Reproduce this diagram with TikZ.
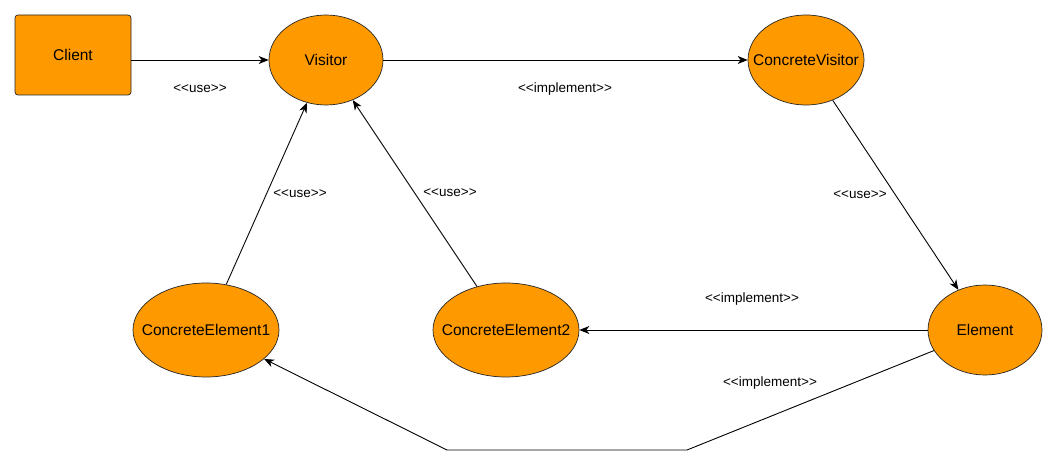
\documentclass[tikz,border=0pt]{standalone}
\usepackage{fontspec}
\setmainfont{Liberation Sans}
\usetikzlibrary{positioning,shapes,arrows.meta}
\definecolor{boxorange}{RGB}{255,153,0}
\newcommand\fixwd[1]{\makebox[0pt]{#1}}
\tikzset{
  uml/.style={draw=black!85,line width=0.7pt,fill=boxorange,font=\fontsize{15.5}{18}\selectfont},
  actor/.style={uml,rectangle,rounded corners=3pt,minimum width=116pt,minimum height=80pt},
  role/.style={uml,ellipse,inner sep=0pt,minimum width=114pt,minimum height=90pt},
  wide/.style={role,minimum width=146pt,minimum height=94pt},
  stereo/.style={font=\fontsize{13.5}{16}\selectfont},
  rel/.style={->,line width=0.9pt},
}
\begin{document}
\begin{tikzpicture}[x=1pt,y=-1pt,>={Stealth[length=10pt,width=8pt,inset=3pt]}]
\useasboundingbox (0,0) rectangle (1059,465);
\path node[actor] at (73,55) (client) {Client}
  node[role] at (326,60) (visitor) {\fixwd{Visitor}}
  node[role,minimum width=116pt] at (806,60) (cvisitor) {\fixwd{ConcreteVisitor}}
  node[role] at (985,330) (element) {\fixwd{Element}}
  node[wide] at (206,330) (celem1) {\fixwd{ConcreteElement1}}
  node[wide] at (506,330) (celem2) {\fixwd{ConcreteElement2}};
% bend points of the lower connector
\coordinate (bendR) at (687,450);
\coordinate (bendL) at (447,450);
\draw[rel] (client.east |- visitor.west) -- (visitor.west);
\draw[rel] (visitor) -- (cvisitor);
\draw[rel] (cvisitor) -- (element);
\draw[rel] (celem1) -- (visitor);
\draw[rel] (celem2) -- (visitor);
\draw[rel] (element) -- (celem2);
\draw[rel] (element) -- (bendR) -- (bendL) -- (celem1);
\path node[stereo] at (200,89) (useA) {<{}<use>{}>}
  node[stereo] at (565,89) (implA) {<{}<implement>{}>}
  node[stereo] at (860,195) (useB) {<{}<use>{}>}
  node[stereo] at (300,194) (useC) {<{}<use>{}>}
  node[stereo] at (450,193) (useD) {<{}<use>{}>}
  node[stereo] at (752,299) (implB) {<{}<implement>{}>}
  node[stereo] at (770,383) (implC) {<{}<implement>{}>};
\end{tikzpicture}
\end{document}
